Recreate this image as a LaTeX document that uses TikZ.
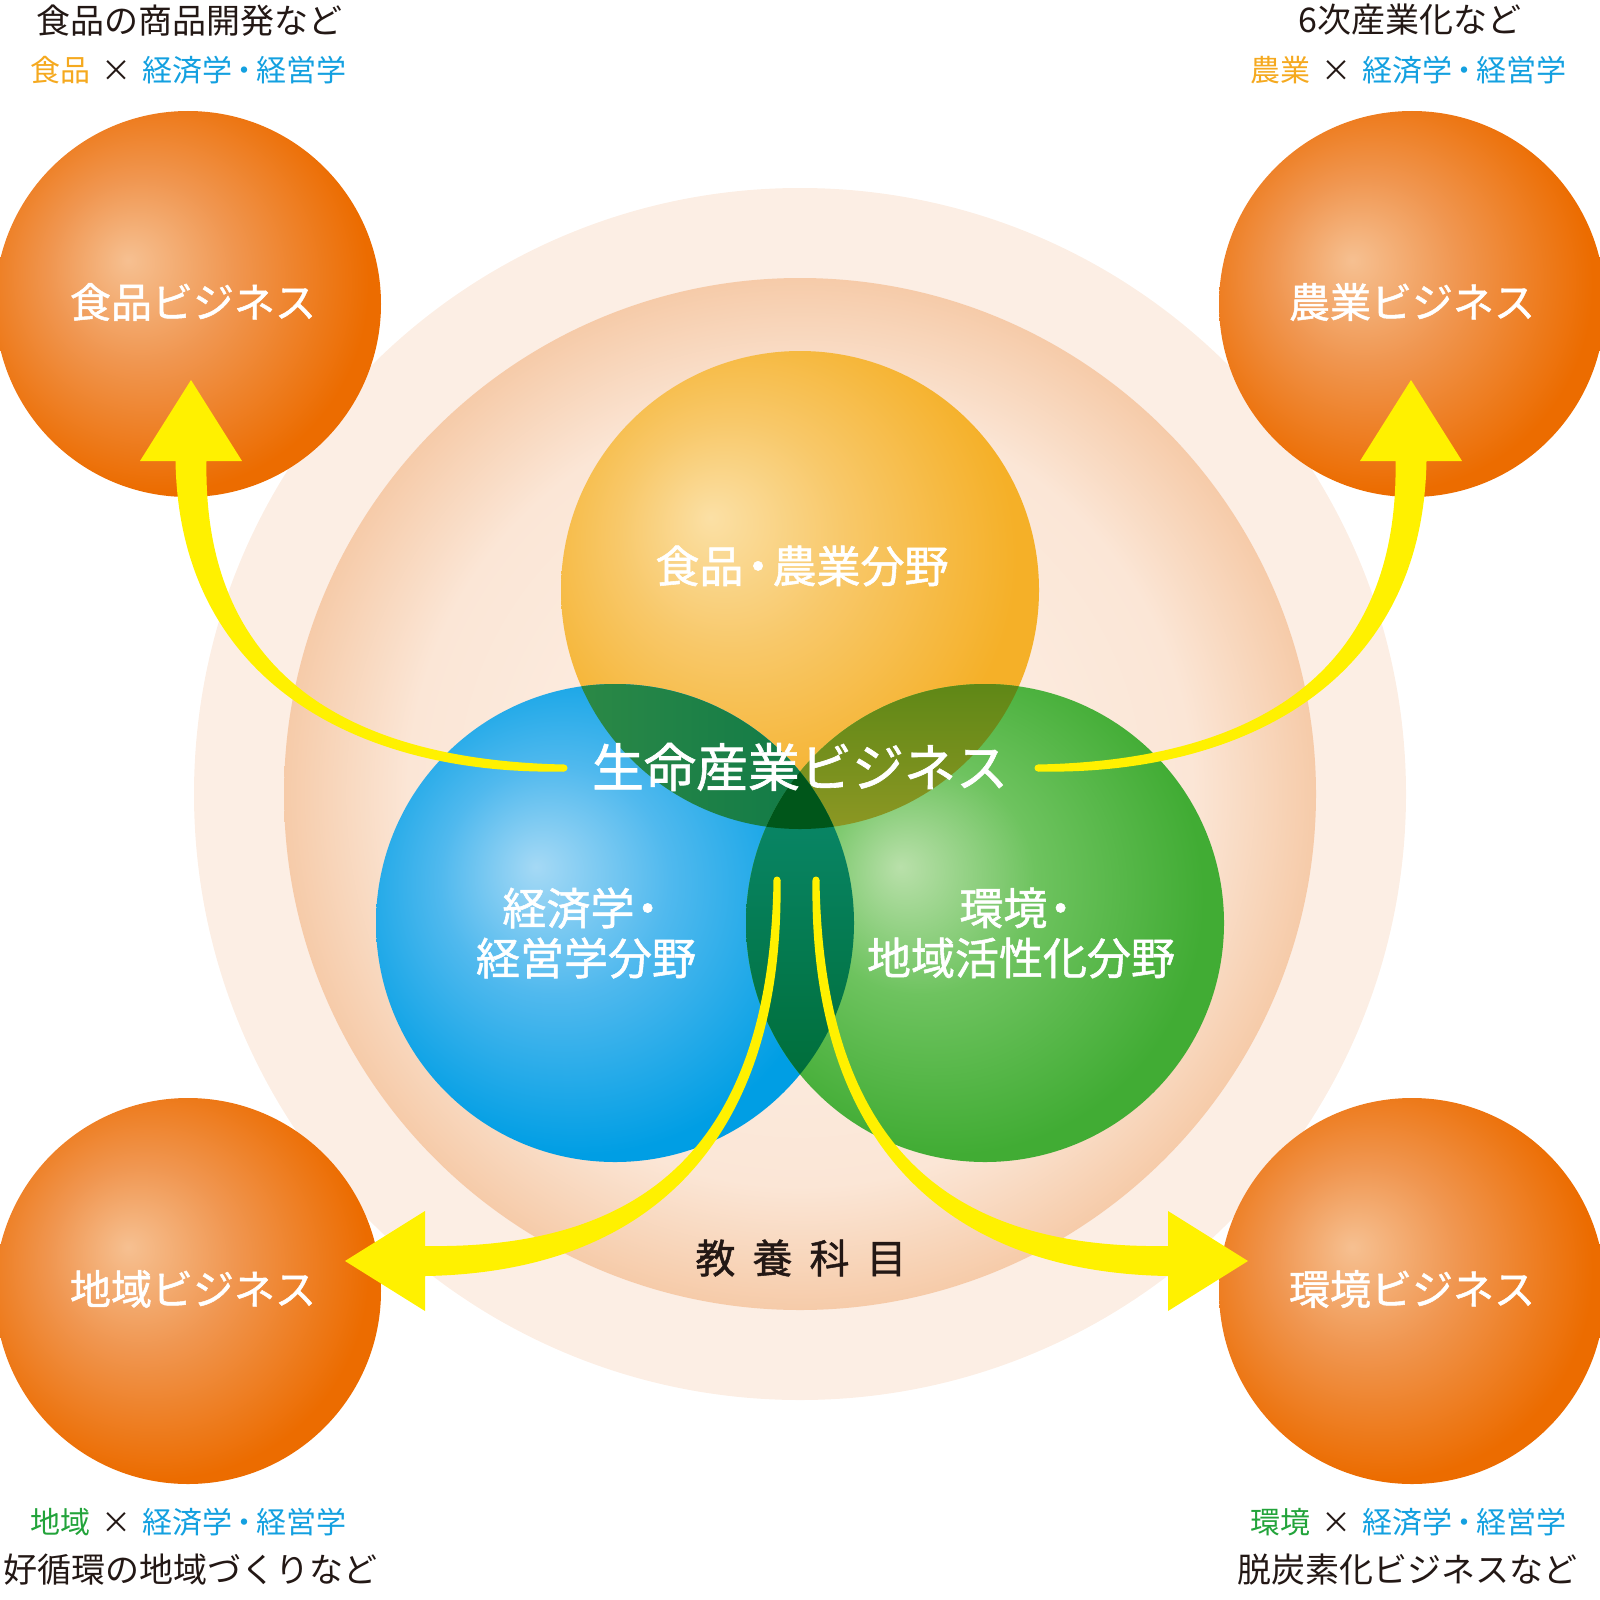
\documentclass[tikz,border=0pt]{standalone}
\usepackage{fontspec}
\setmainfont{Noto Sans CJK JP}
\newfontfamily\labelfont[FakeBold=1.2]{Noto Sans CJK JP}
\usetikzlibrary{calc}

\definecolor{txt}{HTML}{231815}
\definecolor{capO}{HTML}{F5A91F}
\definecolor{capB}{HTML}{13A0E0}
\definecolor{capG}{HTML}{22A33A}
\definecolor{arrowY}{HTML}{FFF100}
\definecolor{outerC}{HTML}{FCEEE4}
\definecolor{ringA}{HTML}{FDF2EA}
\definecolor{ringB}{HTML}{FBE6D6}
\definecolor{ringC}{HTML}{F6CBA9}
\definecolor{oHi}{HTML}{FBE0A5}
\definecolor{oMid}{HTML}{F8C869}
\definecolor{oEdge}{HTML}{F5B028}
\definecolor{bHi}{HTML}{A5D9F5}
\definecolor{bMid}{HTML}{50B9EE}
\definecolor{bEdge}{HTML}{009EE4}
\definecolor{gHi}{HTML}{B9E0AA}
\definecolor{gMid}{HTML}{6EC35F}
\definecolor{gEdge}{HTML}{41AC34}
\definecolor{cHi}{HTML}{F6C091}
\definecolor{cMid}{HTML}{F09650}
\definecolor{cEdge}{HTML}{EC6C00}
\definecolor{obA}{HTML}{2E8A46}
\definecolor{obB}{HTML}{0B7748}
\definecolor{ogA}{HTML}{5E8716}
\definecolor{ogB}{HTML}{8E9824}
\definecolor{bgA}{HTML}{0A8A6E}
\definecolor{bgB}{HTML}{006E3A}
\definecolor{triC}{HTML}{00561A}

\pgfdeclareradialshading{ringshade}{\pgfpointorigin}{color(0bp)=(ringA); color(19bp)=(ringB); color(25bp)=(ringC); color(50bp)=(ringC)}
\pgfdeclareradialshading{orangeball}{\pgfpoint{-9.4bp}{7.6bp}}{color(0bp)=(oHi); color(12bp)=(oMid); color(27bp)=(oEdge); color(50bp)=(oEdge)}
\pgfdeclareradialshading{blueball}{\pgfpoint{-8.3bp}{5.9bp}}{color(0bp)=(bHi); color(12bp)=(bMid); color(27bp)=(bEdge); color(50bp)=(bEdge)}
\pgfdeclareradialshading{greenball}{\pgfpoint{-8.9bp}{5.9bp}}{color(0bp)=(gHi); color(12bp)=(gMid); color(27bp)=(gEdge); color(50bp)=(gEdge)}
\pgfdeclareradialshading{cornerball}{\pgfpoint{-7.8bp}{5.7bp}}{color(0bp)=(cHi); color(12bp)=(cMid); color(27bp)=(cEdge); color(50bp)=(cEdge)}

\newcommand{\mydot}{\kern-0.1em・\kern-0.1em}
\newcommand{\bigdot}{\kern-0.17em・\kern-0.17em}
\newcommand{\taildot}{\kern-0.2em・}

\tikzset{
  caption/.style={inner sep=0pt, text=txt, font=\fontsize{34}{40}\selectfont},
  subcap/.style={inner sep=0pt, text=txt, font=\fontsize{30}{36}\selectfont},
  bizlabel/.style={inner sep=0pt, text=white, font=\labelfont\fontsize{41}{48}\selectfont},
  fieldlabel/.style={inner sep=0pt, text=white, align=center, font=\labelfont\fontsize{44}{50}\selectfont},
  centerlabel/.style={inner sep=0pt, text=white, font=\labelfont\fontsize{52}{60}\selectfont},
  basiclabel/.style={inner sep=0pt, text=txt, font=\labelfont\fontsize{40}{46}\selectfont},
  yarrow/.style={fill=arrowY, draw=none},
}

\begin{document}
\begin{tikzpicture}[x=1pt,y=-1pt]
\useasboundingbox (0,0) rectangle (1600,1600);

% background rings
\coordinate (mid) at (800,794);
\fill[outerC] (mid) circle[radius=606pt];
\shade[shading=ringshade] (mid) circle[radius=516pt];

% corner balls
\coordinate (cTL) at (188,304);
\coordinate (cTR) at (1412,304);
\coordinate (cBL) at (188,1291);
\coordinate (cBR) at (1412,1291);
\shade[shading=cornerball] (cTL) circle[radius=193pt];
\shade[shading=cornerball] (cTR) circle[radius=193pt];
\shade[shading=cornerball] (cBL) circle[radius=193pt];
\shade[shading=cornerball] (cBR) circle[radius=193pt];

% Venn circles
\coordinate (vO) at (800,590);
\coordinate (vB) at (615,923);
\coordinate (vG) at (985,923);
\shade[shading=orangeball] (vO) circle[radius=239pt];
\shade[shading=blueball] (vB) circle[radius=239pt];
\shade[shading=greenball] (vG) circle[radius=239pt];

% overlaps
\begin{scope}
  \clip (vO) circle[radius=239pt];
  \clip (vB) circle[radius=239pt];
  \shade[left color=obA, right color=obB] (555,680) rectangle (860,835);
\end{scope}
\begin{scope}
  \clip (vO) circle[radius=239pt];
  \clip (vG) circle[radius=239pt];
  \shade[top color=ogA, bottom color=ogB] (740,680) rectangle (1045,835);
\end{scope}
\begin{scope}
  \clip (vB) circle[radius=239pt];
  \clip (vG) circle[radius=239pt];
  \shade[top color=bgA, bottom color=bgB] (740,765) rectangle (860,1080);
\end{scope}
\begin{scope}
  \clip (vB) circle[radius=239pt];
  \clip (vG) circle[radius=239pt];
  \fill[triC] (vO) circle[radius=239pt];
\end{scope}

% arrows (tapered)
\coordinate (sTL) at (564,768);
\coordinate (sTR) at (1038,768);
\coordinate (sBL) at (777,880);
\coordinate (sBR) at (816,880);
\fill[yarrow] (564,771.5) .. controls (370,775.5) and (179.5,690) .. (175.5,461)
  -- (140,461) -- (191,380) -- (242,461) -- (206.5,461)
  .. controls (202.5,690) and (370,760.5) .. (564,764.5) -- cycle;
\fill[yarrow] (sTL) circle[radius=3.5pt];
\fill[yarrow] (1038,771.5) .. controls (1232,775.5) and (1422.5,690) .. (1426.5,461)
  -- (1462,461) -- (1411,380) -- (1360,461) -- (1395.5,461)
  .. controls (1399.5,690) and (1232,760.5) .. (1038,764.5) -- cycle;
\fill[yarrow] (sTR) circle[radius=3.5pt];
\fill[yarrow] (780.5,880) .. controls (784.3,1130) and (660,1272.2) .. (425,1276)
  -- (425,1311) -- (345,1261) -- (425,1211) -- (425,1246)
  .. controls (660,1249.8) and (769.7,1130) .. (773.5,880) -- cycle;
\fill[yarrow] (sBL) circle[radius=3.5pt];
\fill[yarrow] (812.5,880) .. controls (808.7,1130) and (933,1272.2) .. (1168,1276)
  -- (1168,1311) -- (1248,1261) -- (1168,1211) -- (1168,1246)
  .. controls (933,1249.8) and (823.3,1130) .. (819.5,880) -- cycle;
\fill[yarrow] (sBR) circle[radius=3.5pt];

% labels inside balls
\node[bizlabel] (bTL) at (193,302) {食品ビジネス};
\node[bizlabel] (bTR) at (1412,302) {農業ビジネス};
\node[bizlabel] (bBL) at (193,1289) {地域ビジネス};
\node[bizlabel] (bBR) at (1412,1289) {環境ビジネス};

\node[fieldlabel] (fO) at (802,566) {食品\bigdot 農業分野};
\node[fieldlabel] (fB) at (586,933) {経済学\taildot\\経営学分野};
\node[fieldlabel] (fG) at (1021,933) {環境\taildot\\地域活性化分野};
\node[centerlabel] (core) at (800,767) {生命産業ビジネス};
\node[basiclabel] (basic) at (801,1258) {教\kern17pt 養\kern17pt 科\kern17pt 目};

% captions
\node[caption] (tTL1) at (189,21) {食品の商品開発など};
\node[subcap] (tTL2) at (188,70) {{\color{capO}食品}\kern11pt×\kern11pt{\color{capB}経済学\mydot 経営学}};
\node[caption] (tTR1) at (1410,20) {6次産業化など};
\node[subcap] (tTR2) at (1408,70) {{\color{capO}農業}\kern11pt×\kern11pt{\color{capB}経済学\mydot 経営学}};
\node[subcap] (tBL1) at (188,1522) {{\color{capG}地域}\kern11pt×\kern11pt{\color{capB}経済学\mydot 経営学}};
\node[caption] (tBL2) at (190,1570) {好循環の地域づくりなど};
\node[subcap] (tBR1) at (1408,1522) {{\color{capG}環境}\kern11pt×\kern11pt{\color{capB}経済学\mydot 経営学}};
\node[caption] (tBR2) at (1407,1570) {脱炭素化ビジネスなど};
\end{tikzpicture}
\end{document}
